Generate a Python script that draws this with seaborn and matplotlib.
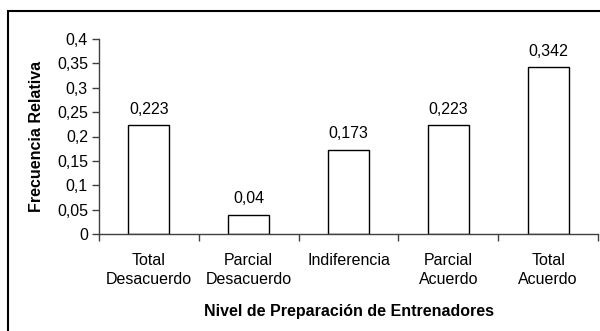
import matplotlib
matplotlib.use("Agg")
import matplotlib.pyplot as plt
from matplotlib.patches import Rectangle
from matplotlib.ticker import FixedLocator, FuncFormatter
import seaborn as sns
import pandas as pd

categorias = ["Total\nDesacuerdo", "Parcial\nDesacuerdo", "Indiferencia",
              "Parcial\nAcuerdo", "Total\nAcuerdo"]
frecuencias = [0.223, 0.04, 0.173, 0.223, 0.342]
etiquetas = ["0,223", "0,04", "0,173", "0,223", "0,342"]
y_ticks = [0, 0.05, 0.1, 0.15, 0.2, 0.25, 0.3, 0.35, 0.4]

sns.set_theme(style="white")
plt.rcParams["font.family"] = ["Liberation Sans", "DejaVu Sans"]

FS = 11.5

df = pd.DataFrame({"categoria": categorias, "frecuencia": frecuencias})

fig = plt.figure(figsize=(6.0, 3.31), dpi=100)
ax = fig.add_axes([99 / 600, 1 - 234 / 331, 499 / 600, 195 / 331])

sns.barplot(data=df, x="categoria", y="frecuencia", ax=ax, color="white",
            edgecolor="black", linewidth=1.0, width=0.41, saturation=1)

for i, (v, t) in enumerate(zip(frecuencias, etiquetas)):
    ax.annotate(t, (i, v), xytext=(0, 6), textcoords="offset points",
                ha="center", va="bottom", fontsize=FS, color="black")

ax.set_xlim(-0.5, 4.5)
ax.set_ylim(0, 0.4)
ax.yaxis.set_major_locator(FixedLocator(y_ticks))
ax.yaxis.set_major_formatter(FuncFormatter(lambda v, p: f"{v:g}".replace(".", ",")))

# category boundaries carry the tick marks, labels sit at the centres
ax.xaxis.set_minor_locator(FixedLocator([-0.5, 0.5, 1.5, 2.5, 3.5, 4.5]))
ax.tick_params(axis="x", which="major", length=0, pad=14, labelsize=FS,
               colors="black")
ax.tick_params(axis="x", which="minor", length=5, width=1, color="#404040",
               direction="out", bottom=True)
ax.tick_params(axis="y", which="major", length=5, width=1, color="#404040",
               direction="out", left=True, labelsize=FS, pad=3, labelcolor="black")
for lbl in ax.get_xticklabels():
    lbl.set_linespacing(1.3)

sns.despine(ax=ax)
for s in ("left", "bottom"):
    ax.spines[s].set_color("#404040")
    ax.spines[s].set_linewidth(1.0)

ax.set_xlabel("Nivel de Preparación de Entrenadores", fontsize=FS,
              fontweight="bold", labelpad=12, color="black")
ax.set_ylabel("Frecuencia Relativa", fontsize=FS, fontweight="bold",
              labelpad=9, color="black")

# outer chart frame
fig.patches.append(Rectangle((8 / 600, -0.1), 1.2, (331 - 11) / 331 + 0.1,
                             transform=fig.transFigure, fill=False,
                             edgecolor="black", linewidth=1.5, zorder=0))

fig.savefig("out.png", dpi=100)
